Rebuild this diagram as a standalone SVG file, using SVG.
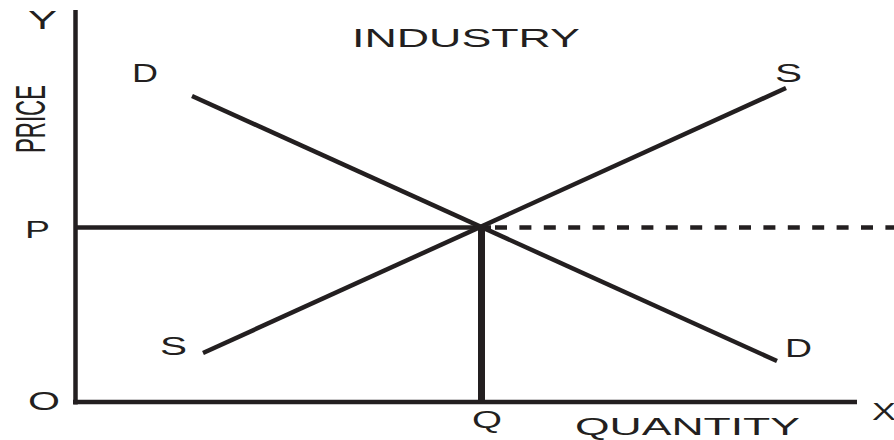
<svg xmlns="http://www.w3.org/2000/svg" width="894" height="440" viewBox="0 0 894 440">
<style>
text{font-family:"Liberation Sans",Arial,sans-serif;font-size:26px;fill:#231f20}
.ln{stroke:#231f20;fill:none;stroke-width:4.5}
.thick{stroke-width:7}
</style>
<rect width="894" height="440" fill="#fff"/>
<g id="connectors">
<line class="ln" x1="75.5" y1="10" x2="75.5" y2="404.5"/>
<line class="ln" x1="73" y1="402" x2="857" y2="402"/>
<line class="ln" x1="75.5" y1="227.5" x2="491" y2="227.5"/>
<line class="ln" x1="495" y1="227.5" x2="894" y2="227.5" stroke-dasharray="12 12.4"/>
<line class="ln" x1="192" y1="96" x2="777" y2="361"/>
<line class="ln" x1="203" y1="353" x2="786" y2="88"/>
<line class="ln thick" x1="481.5" y1="226" x2="481.5" y2="402"/>
</g>
<g id="labels">
<text x="28" y="29" textLength="29" lengthAdjust="spacingAndGlyphs">Y</text>
<text transform="translate(45,153) rotate(-90)" style="font-size:42px" textLength="68" lengthAdjust="spacingAndGlyphs">PRICE</text>
<text x="352" y="47" textLength="228" lengthAdjust="spacingAndGlyphs">INDUSTRY</text>
<text x="132" y="82" textLength="26" lengthAdjust="spacingAndGlyphs">D</text>
<text x="775" y="82" textLength="27" lengthAdjust="spacingAndGlyphs">S</text>
<text x="25" y="238" style="font-size:23px" textLength="25" lengthAdjust="spacingAndGlyphs">P</text>
<text x="160" y="355" textLength="27" lengthAdjust="spacingAndGlyphs">S</text>
<text x="785" y="357" textLength="27" lengthAdjust="spacingAndGlyphs">D</text>
<text x="28" y="410" style="font-size:25px" textLength="32" lengthAdjust="spacingAndGlyphs">O</text>
<text x="472" y="428" style="font-size:24px" textLength="30" lengthAdjust="spacingAndGlyphs">Q</text>
<text x="872" y="420" style="font-size:24px" textLength="24" lengthAdjust="spacingAndGlyphs">X</text>
<text x="575" y="435" style="font-size:24px" textLength="225" lengthAdjust="spacingAndGlyphs">QUANTITY</text>
</g>
</svg>
